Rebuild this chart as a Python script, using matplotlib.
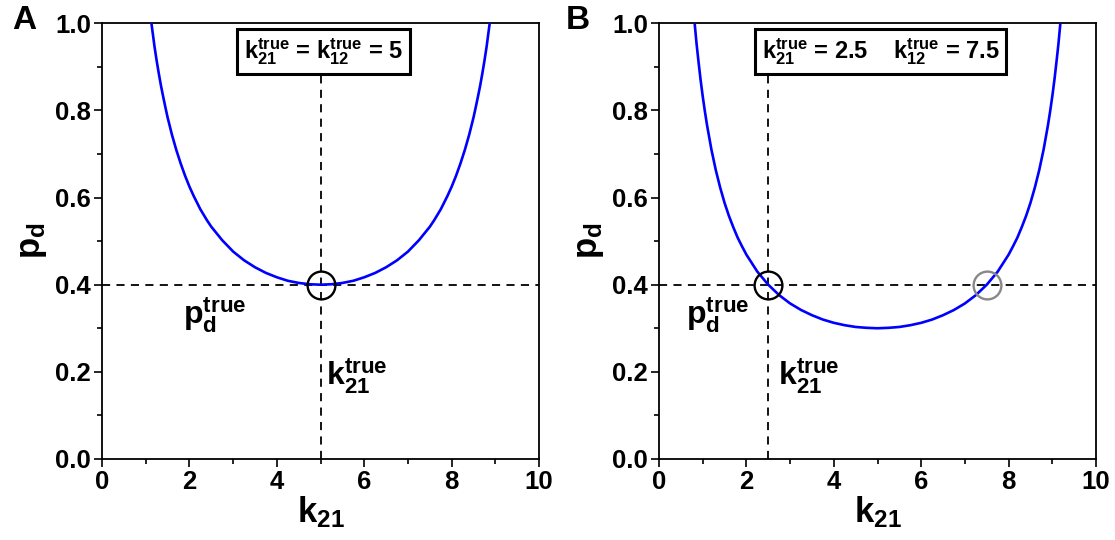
import matplotlib
matplotlib.use('Agg')
import matplotlib.pyplot as plt
from matplotlib.ticker import MultipleLocator, FormatStrFormatter

plt.rcParams['font.family'] = ['Liberation Sans', 'DejaVu Sans']
plt.rcParams['font.weight'] = 'bold'
plt.rcParams['mathtext.fontset'] = 'custom'
plt.rcParams['mathtext.rm'] = 'Liberation Sans:bold'
plt.rcParams['mathtext.it'] = 'Liberation Sans:bold'
plt.rcParams['mathtext.bf'] = 'Liberation Sans:bold'
plt.rcParams['mathtext.default'] = 'bf'

# values
k_a = [1.13, 1.17, 1.2, 1.25, 1.3, 1.35, 1.4, 1.45, 1.5, 1.6, 1.7, 1.8, 1.9, 2.0, 2.1,
       2.25, 2.4, 2.5, 2.75, 3.0, 3.25, 3.5, 3.75, 4.0, 4.25, 4.5, 4.75, 5.0, 5.25, 5.5,
       5.75, 6.0, 6.25, 6.5, 6.75, 7.0, 7.25, 7.5, 7.6, 7.75, 7.9, 8.0, 8.1, 8.2, 8.3,
       8.4, 8.5, 8.55, 8.6, 8.65, 8.7, 8.75, 8.8, 8.83, 8.87]
pd_a = [1.0, 0.970, 0.947, 0.914, 0.884, 0.856, 0.831, 0.807, 0.784, 0.744, 0.709, 0.678,
        0.650, 0.625, 0.603, 0.573, 0.548, 0.533, 0.502, 0.476, 0.456, 0.440, 0.427, 0.417,
        0.409, 0.404, 0.401, 0.400, 0.401, 0.404, 0.409, 0.417, 0.427, 0.440, 0.456, 0.476,
        0.502, 0.533, 0.548, 0.573, 0.603, 0.625, 0.650, 0.678, 0.709, 0.744, 0.784, 0.807,
        0.831, 0.856, 0.884, 0.914, 0.947, 0.970, 1.0]

k_b = [0.82, 0.86, 0.9, 0.95, 1.0, 1.05, 1.1, 1.2, 1.3, 1.4, 1.5, 1.6, 1.7, 1.8, 1.9, 2.0,
       2.25, 2.5, 2.75, 3.0, 3.25, 3.5, 3.75, 4.0, 4.25, 4.5, 4.75, 5.0, 5.25, 5.5, 5.75,
       6.0, 6.25, 6.5, 6.75, 7.0, 7.25, 7.5, 7.75, 8.0, 8.1, 8.2, 8.3, 8.4, 8.5, 8.6, 8.7,
       8.8, 8.9, 8.95, 9.0, 9.05, 9.1, 9.14, 9.18]
pd_b = [0.996, 0.953, 0.916, 0.872, 0.833, 0.798, 0.766, 0.710, 0.663, 0.623, 0.588, 0.558,
        0.532, 0.508, 0.488, 0.469, 0.430, 0.400, 0.376, 0.357, 0.342, 0.330, 0.320, 0.3125,
        0.307, 0.303, 0.301, 0.300, 0.301, 0.303, 0.307, 0.3125, 0.320, 0.330, 0.342, 0.357,
        0.376, 0.400, 0.430, 0.469, 0.488, 0.508, 0.532, 0.558, 0.588, 0.623, 0.663, 0.710,
        0.766, 0.798, 0.833, 0.872, 0.916, 0.953, 0.996]

pd_true = 0.4
k21_true = [5.0, 2.5]
k12_true = [5.0, 7.5]
box_text = [r'$k_{21}^{true}$ = $k_{12}^{true}$ = 5',
            r'$k_{21}^{true}$ = 2.5    $k_{12}^{true}$ = 7.5']
panel = ['A', 'B']

fig = plt.figure(figsize=(11.15, 5.4), dpi=100)
axes = [fig.add_axes([0.0915, 0.15, 0.392, 0.807]),
        fig.add_axes([0.591, 0.15, 0.392, 0.807])]

curves = [(k_a, pd_a), (k_b, pd_b)]
ptrue_x = [1.85, 0.62]
ktrue_x = [5.12, 2.72]
dash = (0, (4.5, 3.5))

for i, ax in enumerate(axes):
    kk, pp = curves[i]
    ax.plot(kk, pp, color='#0000ff', lw=1.9, zorder=3)
    ax.axhline(pd_true, color='black', ls=dash, lw=1.3, zorder=2)
    ax.plot([k21_true[i], k21_true[i]], [0, 0.9], color='black', ls=dash,
            lw=1.3, zorder=2)
    ax.plot(k21_true[i], pd_true, 'o', ms=20, mfc='none', mec='black', mew=1.7, zorder=4)
    if k12_true[i] != k21_true[i]:
        ax.plot(k12_true[i], pd_true, 'o', ms=20, mfc='none', mec='#888888', mew=1.7,
                zorder=4)

    ax.text(5.07, 0.934, box_text[i], fontsize=17, ha='center', va='center', zorder=6,
            bbox=dict(boxstyle='square,pad=0.3', fc='white', ec='black', lw=2.2))
    ax.text(ptrue_x[i], 0.33, r'$p_{d}^{true}$', fontsize=23, ha='left', va='center')
    ax.text(ktrue_x[i], 0.19, r'$k_{21}^{true}$', fontsize=23, ha='left', va='center')

    ax.set_xlim(0, 10)
    ax.set_ylim(0, 1.0)
    ax.xaxis.set_major_locator(MultipleLocator(2))
    ax.xaxis.set_minor_locator(MultipleLocator(1))
    ax.yaxis.set_major_locator(MultipleLocator(0.2))
    ax.yaxis.set_minor_locator(MultipleLocator(0.1))
    ax.yaxis.set_major_formatter(FormatStrFormatter('%.1f'))
    ax.tick_params(which='major', direction='out', length=6, width=1.2, labelsize=18.5, pad=2)
    ax.tick_params(which='minor', direction='out', length=3.5, width=1.2)
    for s in ax.spines.values():
        s.set_linewidth(1.3)
    for lab in ax.get_xticklabels() + ax.get_yticklabels():
        lab.set_fontweight('bold')
    ax.set_xlabel(r'$k_{21}$', fontsize=25, labelpad=0)
    ax.set_ylabel(r'$p_{d}$', fontsize=25, labelpad=4)

fig.text(0.011, 0.99, panel[0], fontsize=24, fontweight='bold', va='top')
fig.text(0.507, 0.99, panel[1], fontsize=24, fontweight='bold', va='top')

fig.savefig('out.png', dpi=100)
